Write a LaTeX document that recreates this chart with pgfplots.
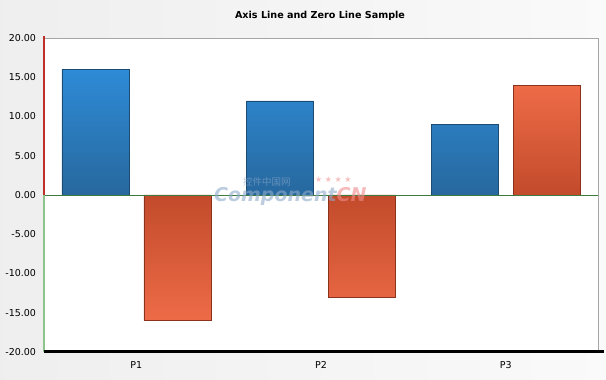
\documentclass[border=0pt]{standalone}
\usepackage{pgfplots}
\pgfplotsset{compat=1.18}
\usepackage{fontspec}
\setmainfont{DejaVu Sans}
\newfontfamily\cjk{Noto Sans CJK SC}
\definecolor{bluetop}{HTML}{2E8BD6}
\definecolor{bluebot}{HTML}{27689E}
\definecolor{blueedge}{HTML}{1C4C73}
\definecolor{orglight}{HTML}{EE6B47}
\definecolor{orgdark}{HTML}{C24B2B}
\definecolor{orgedge}{HTML}{8A321C}
\definecolor{zerogreen}{HTML}{3D7A3D}
\definecolor{axred}{HTML}{C0302A}
\definecolor{axgreen}{HTML}{8CC48C}
\definecolor{wmblue}{HTML}{8FAACB}
\definecolor{wmred}{HTML}{F08C8C}
\begin{document}
\begin{tikzpicture}[x=1pt,y=1pt]
\shade[left color=gray!13, right color=gray!4] (0,0) rectangle (606,380);
\node[font=\bfseries\fontsize{9.6}{11}\selectfont] at (320,364) {Axis Line and Zero Line Sample};
\begin{axis}[
  at={(44pt,28pt)}, anchor=south west, scale only axis,
  width=554pt, height=314pt,
  xmin=-0.5, xmax=2.5, ymin=-20, ymax=20,
  axis line style={draw=none},
  axis background/.style={fill=white},
  major tick length=0pt,
  clip=false,
  ytick={-20,-15,-10,-5,0,5,10,15,20},
  yticklabels={-20.00,-15.00,-10.00,-5.00,0.00,5.00,10.00,15.00,20.00},
  xtick={0,1,2},
  xticklabels={P1,P2,P3},
  tick label style={font=\fontsize{9.5}{11}\selectfont},
  yticklabel style={xshift=-4.5pt},
  xticklabel style={yshift=-6pt},
]
\addplot[ybar, bar width=67pt, bar shift=-41pt, draw=blueedge, top color=bluetop, bottom color=bluebot] coordinates {(0,16) (1,12) (2,9)};
\addplot[ybar, bar width=67pt, bar shift=41pt, draw=orgedge, top color=orgdark, bottom color=orglight] coordinates {(0,-16) (1,-13)};
\addplot[ybar, bar width=67pt, bar shift=41pt, draw=orgedge, top color=orglight, bottom color=orgdark] coordinates {(2,14)};
% lines
\draw[zerogreen, line width=0.9pt] (axis cs:-0.5,0) -- (axis cs:2.5,0);
\draw[gray!70, line width=1pt] (axis cs:-0.5,20) -- (axis cs:2.5,20) -- (axis cs:2.5,-20);
\draw[axred, line width=1.4pt] (axis cs:-0.5,0) -- (axis cs:-0.5,20.2);
\draw[axgreen, line width=1.4pt] (axis cs:-0.5,-20) -- (axis cs:-0.5,0);
\draw[black, line width=3pt] (axis cs:-0.5,-20) -- (axis cs:2.535,-20);
\end{axis}
% watermark
\node[font=\bfseries\itshape\fontsize{19}{21}\selectfont, text=wmblue, opacity=0.6, anchor=west, inner sep=0] at (214,184) {Component\textcolor{wmred}{CN}};
\node[font=\cjk\fontsize{9.5}{10}\selectfont, text=wmblue, opacity=0.6, anchor=west, inner sep=0] at (243,198) {控件中国网};
\node[text=wmred, opacity=0.55, font=\fontsize{8}{8}\selectfont, anchor=west, inner sep=0] at (315,200) {★ ★ ★ ★};
\end{tikzpicture}
\end{document}
